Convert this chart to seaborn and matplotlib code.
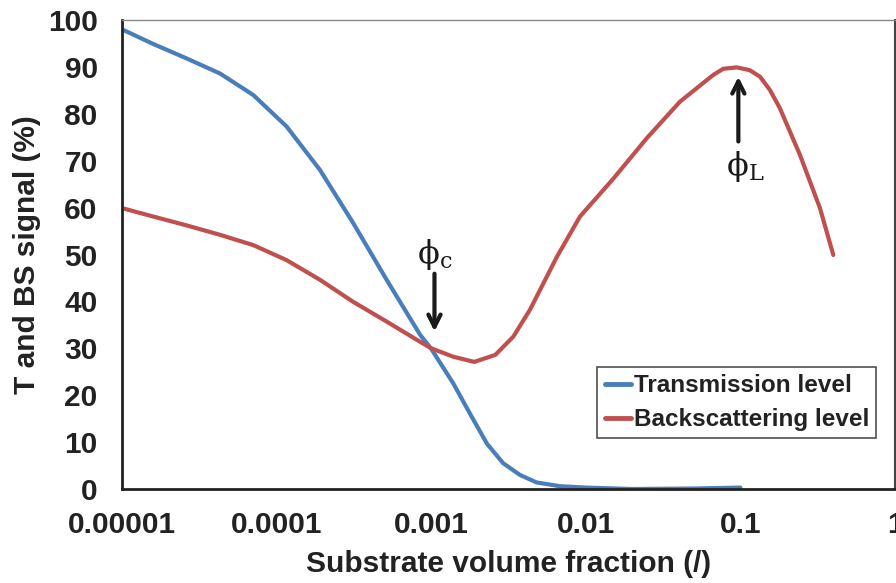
import matplotlib
matplotlib.use("Agg")
import matplotlib.pyplot as plt
import matplotlib.ticker as mticker
import seaborn as sns
import pandas as pd
import numpy as np

# values
t_frac = [1.0e-5, 1.59e-5, 2.62e-5, 4.3e-5, 7.07e-5, 1.16e-4, 1.91e-4, 3.13e-4,
          5.15e-4, 8.47e-4, 1.0e-3, 1.39e-3, 1.78e-3, 2.29e-3, 2.92e-3, 3.75e-3,
          4.8e-3, 6.8e-3, 1.0e-2, 2.0e-2, 5.0e-2, 1.0e-1]
t_level = [98, 94.9, 91.8, 88.6, 84.0, 77.3, 68.0, 56.7,
           44.6, 32.9, 29.9, 22.5, 16.1, 9.7, 5.5, 3.0,
           1.4, 0.6, 0.3, 0.0, 0.1, 0.3]

bs_frac = [1.0e-5, 1.59e-5, 2.62e-5, 4.3e-5, 7.07e-5, 1.16e-4, 1.91e-4, 3.13e-4,
           5.15e-4, 8.47e-4, 1.0e-3, 1.39e-3, 1.9e-3, 2.6e-3, 3.4e-3, 4.35e-3,
           6.5e-3, 9.17e-3, 1.51e-2, 2.48e-2, 4.07e-2, 6.68e-2, 7.75e-2, 9.47e-2,
           0.115, 0.134, 0.155, 0.180, 0.243, 0.327, 0.399]
bs_level = [59.9, 58.1, 56.2, 54.2, 52.0, 48.8, 44.6, 39.9,
            35.7, 31.4, 30.0, 28.2, 27.1, 28.6, 32.5, 38.2,
            49.5, 58.1, 66.2, 74.8, 82.6, 88.3, 89.6, 89.9,
            89.3, 87.9, 85.1, 81.2, 71.2, 59.9, 49.9]

xtick_vals = [1e-5, 1e-4, 1e-3, 1e-2, 1e-1, 1]
xtick_labels = ["0.00001", "0.0001", "0.001", "0.01", "0.1", "1"]

df = pd.concat([
    pd.DataFrame({"frac": t_frac, "level": t_level, "series": "Transmission level"}),
    pd.DataFrame({"frac": bs_frac, "level": bs_level, "series": "Backscattering level"}),
])

sns.set_style("white")
plt.rcParams["font.family"] = ["Liberation Sans", "DejaVu Sans"]
plt.rcParams["mathtext.fontset"] = "custom"
plt.rcParams["mathtext.rm"] = "DejaVu Serif"

fig = plt.figure(figsize=(8.96, 5.83), dpi=100)
ax = fig.add_axes([122 / 896, 94 / 583, 773 / 896, 469 / 583])

sns.lineplot(data=df, x="frac", y="level", hue="series", sort=False, estimator=None,
             palette=["#4a7ebb", "#c0504d"], linewidth=3.0, ax=ax,
             solid_joinstyle="round", solid_capstyle="round")

ax.set_xscale("log")
ax.set_xlim(1e-5, 1)
ax.set_ylim(0, 100)
ax.set_xticks(xtick_vals)
ax.set_xticklabels(xtick_labels)
ax.xaxis.set_minor_locator(mticker.LogLocator(base=10, subs=np.arange(2, 10), numticks=20))
ax.xaxis.set_minor_formatter(mticker.NullFormatter())
ax.yaxis.set_major_locator(mticker.MultipleLocator(10))
ax.yaxis.set_minor_locator(mticker.MultipleLocator(2))

ax.tick_params(axis="both", which="major", direction="inout", length=13, width=1.3,
               color="#222222", labelsize=21.5, pad=11)
ax.tick_params(axis="y", which="minor", direction="out", length=6.5, width=1.0, color="#222222")
ax.tick_params(axis="x", which="minor", direction="out", length=5, width=1.0, color="#222222")
ax.tick_params(axis="x", which="major", pad=9)
for lab in ax.get_xticklabels() + ax.get_yticklabels():
    lab.set_fontweight("bold")
    lab.set_color("#222222")

for side in ["left", "bottom"]:
    ax.spines[side].set_linewidth(2)
    ax.spines[side].set_color("#222222")
ax.spines["top"].set_color("#888888")
ax.spines["top"].set_linewidth(1)
ax.spines["right"].set_color("#444444")
ax.spines["right"].set_linewidth(1.5)

ax.set_xlabel("Substrate volume fraction (/)", fontsize=21.5, fontweight="bold", color="#222222", labelpad=8)
ax.set_ylabel("T and BS signal (%)", fontsize=21.5, fontweight="bold", color="#222222", labelpad=5)

# arrows marking the critical and limit fractions
ax.annotate("", xy=(1.05e-3, 33), xytext=(1.05e-3, 46.5),
            arrowprops=dict(arrowstyle="->", lw=3, color="#1a1a1a", mutation_scale=22))
ax.text(1.06e-3, 46.3, r"$\mathrm{\phi_{c}}$", fontsize=23, ha="center", va="bottom", color="#1a1a1a")
ax.annotate("", xy=(0.097, 88.5), xytext=(0.097, 73.5),
            arrowprops=dict(arrowstyle="->", lw=3, color="#1a1a1a", mutation_scale=22))
ax.text(0.108, 72.5, r"$\mathrm{\phi_{L}}$", fontsize=23, ha="center", va="top", color="#1a1a1a")

leg = ax.legend(loc="lower right", bbox_to_anchor=(0.976, 0.108), fontsize=17.5,
                frameon=True, fancybox=False, handlelength=1.1, handletextpad=0.1,
                borderpad=0.3, labelspacing=0.45, borderaxespad=0)
leg.get_frame().set_edgecolor("#222222")
leg.get_frame().set_linewidth(1.2)
for t in leg.get_texts():
    t.set_fontweight("bold")
    t.set_color("#222222")
for h in leg.get_lines():
    h.set_linewidth(3.5)

fig.savefig("out.png", dpi=100)
